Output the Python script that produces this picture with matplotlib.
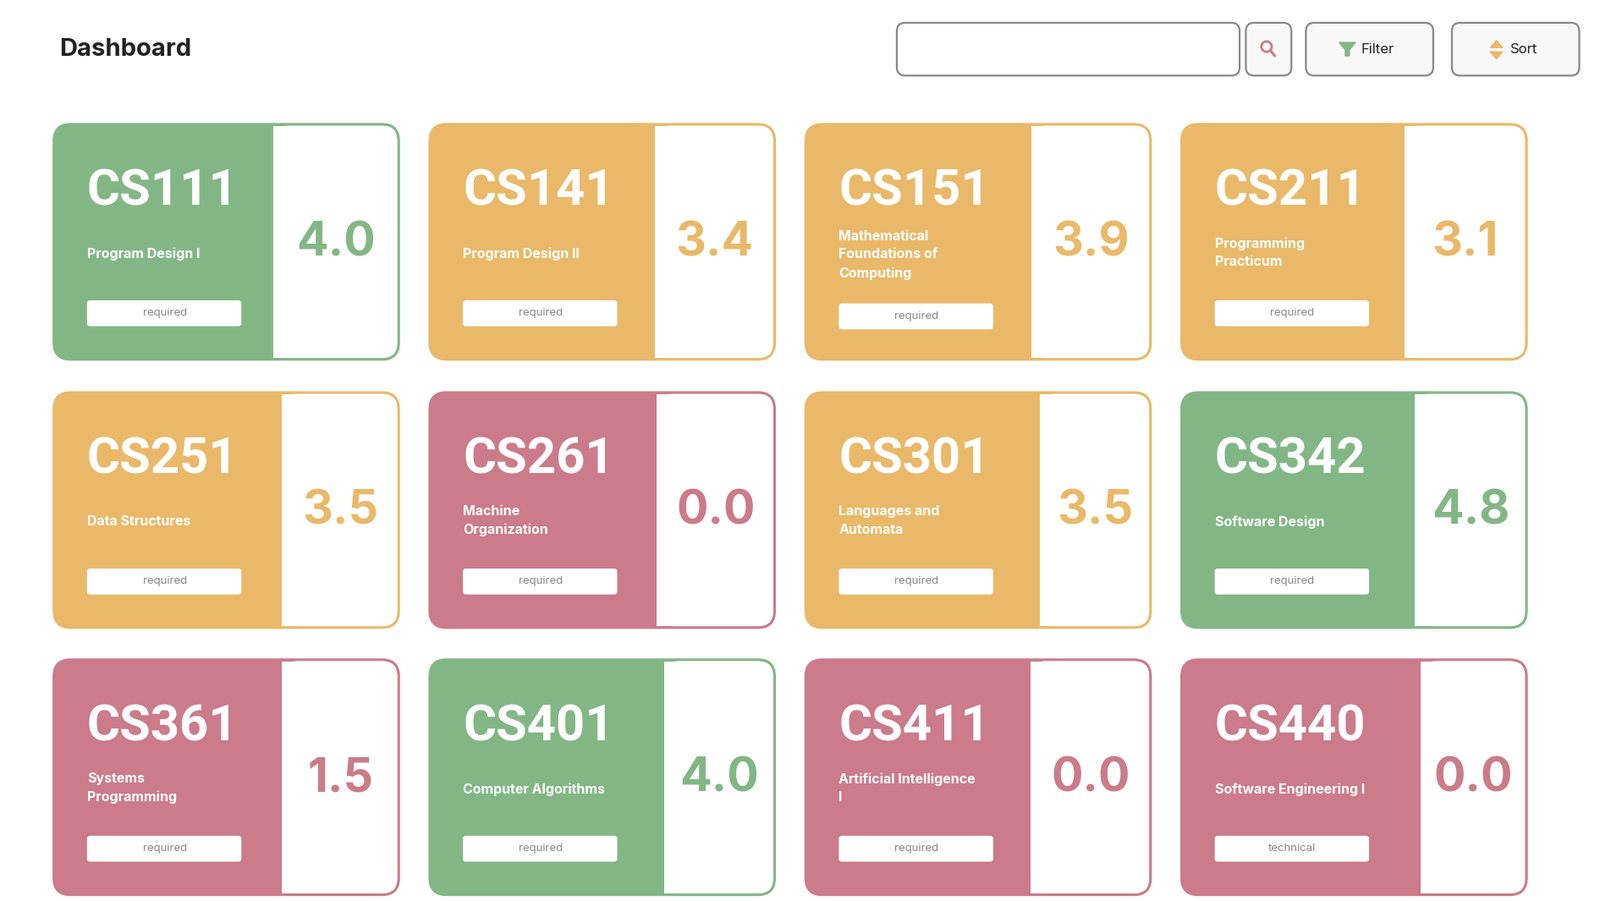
import matplotlib
matplotlib.use("Agg")
import matplotlib.pyplot as plt
from matplotlib.patches import FancyBboxPatch, Rectangle, Polygon

codes = ["CS111", "CS141", "CS151", "CS211", "CS251", "CS261", "CS301", "CS342",
         "CS361", "CS401", "CS411", "CS440"]
names = ["Program Design I", "Program Design II", "Mathematical\nFoundations of\nComputing",
         "Programming\nPracticum", "Data Structures", "Machine\nOrganization",
         "Languages and\nAutomata", "Software Design", "Systems\nProgramming",
         "Computer Algorithms", "Artificial Intelligence\nI", "Software Engineering I"]
grades = [4.0, 3.4, 3.9, 3.1, 3.5, 0.0, 3.5, 4.8, 1.5, 4.0, 0.0, 0.0]
tags = ["required"] * 11 + ["technical"]

# layout (display units of a 1545x870 canvas)
split_w = [212, 217, 218, 215, 220, 219, 226, 225, 220, 226, 217, 231]
col_x = [52, 415, 778, 1141]
row_y = [120, 379, 637]
CW, CH = 333, 227

GREEN, ORANGE, PINK = "#82b785", "#e9b969", "#cb7b89"

def color_for(g):
    if g >= 4.0:
        return GREEN
    if g >= 2.0:
        return ORANGE
    return PINK

fig = plt.figure(figsize=(18.91, 10.65), dpi=100)
ax = fig.add_axes([0, 0, 1, 1])
ax.set_xlim(0, 1545)
ax.set_ylim(870, 0)
ax.axis("off")

# header
ax.text(57, 48, "Dashboard", fontsize=21, fontweight="bold", color="#222222",
        va="center", ha="left", family="Inter")
def btn(x0, x1, y0=22, y1=73):
    ax.add_patch(FancyBboxPatch((x0 + 8, y0 + 8), x1 - x0 - 16, y1 - y0 - 16,
                                boxstyle="round,pad=8", fc="#f8f8f8" if x0 > 1200 else "white",
                                ec="#888888", lw=1.6))
btn(866, 1197)
btn(1203, 1247)
btn(1261, 1384)
btn(1402, 1525)
# search icon
ax.add_patch(plt.Circle((1223, 45), 5, fill=False, ec=PINK, lw=2))
ax.plot([1227, 1231], [49, 54], color=PINK, lw=2.2, solid_capstyle="round")
# filter icon
ax.add_patch(Polygon([[1293, 41], [1309, 41], [1303, 48], [1303, 54], [1299, 54], [1299, 48]],
                     closed=True, fc=GREEN, ec=GREEN))
ax.text(1314, 48, "Filter", fontsize=12, va="center", ha="left", color="#222222", family="Inter")
# sort icon
ax.add_patch(Polygon([[1439, 46], [1451, 46], [1445, 39]], fc=ORANGE, ec=ORANGE))
ax.add_patch(Polygon([[1439, 50], [1451, 50], [1445, 57]], fc=ORANGE, ec=ORANGE))
ax.text(1458, 48, "Sort", fontsize=12, va="center", ha="left", color="#222222", family="Inter")

R = 16
for i, code in enumerate(codes):
    x0 = col_x[i % 4]
    y0 = row_y[i // 4]
    c = color_for(grades[i])
    sx = x0 + split_w[i]
    ax.add_patch(FancyBboxPatch((x0 + R, y0 + R), CW - 2 * R, CH - 2 * R,
                                boxstyle=f"round,pad={R}", fc=c, ec="none"))
    ax.add_patch(FancyBboxPatch((sx + R, y0 + R), x0 + CW - sx - 2 * R, CH - 2 * R,
                                boxstyle=f"round,pad={R - 1}", fc="white", ec="none"))
    ax.add_patch(Rectangle((sx, y0 + 1.5), 2 * R, CH - 3, fc="white", ec="none"))
    ax.add_patch(FancyBboxPatch((x0 + R, y0 + R), CW - 2 * R, CH - 2 * R,
                                boxstyle=f"round,pad={R}", fc="none", ec=c, lw=2.2))
    # code
    ax.text(x0 + 32, y0 + 65, code, fontsize=43, fontweight="bold", color="white",
            va="center", ha="left", family="Roboto")
    # name
    nlines = names[i].count("\n") + 1
    ny = y0 + 125 if nlines == 1 else (y0 + 124 if nlines == 2 else y0 + 126)
    ax.text(x0 + 32, ny, names[i], fontsize=11.5, fontweight="bold", color="white",
            va="center", ha="left", family="Inter", linespacing=1.55)
    # tag badge
    by = y0 + (173 if nlines == 3 else 170)
    ax.add_patch(FancyBboxPatch((x0 + 35, by + 3), 143, 19, boxstyle="round,pad=3",
                                fc="white", ec="none"))
    ax.text(x0 + 107, by + 12.5, tags[i], fontsize=9.5, color="#888888",
            va="center", ha="center", family="Inter")
    # grade
    gx = (sx + x0 + CW) / 2
    ax.text(gx, y0 + 115, f"{grades[i]:.1f}", fontsize=40, fontweight="bold", color=c,
            va="center", ha="center", family="Inter")

fig.savefig("out.png", dpi=100, facecolor="white")
